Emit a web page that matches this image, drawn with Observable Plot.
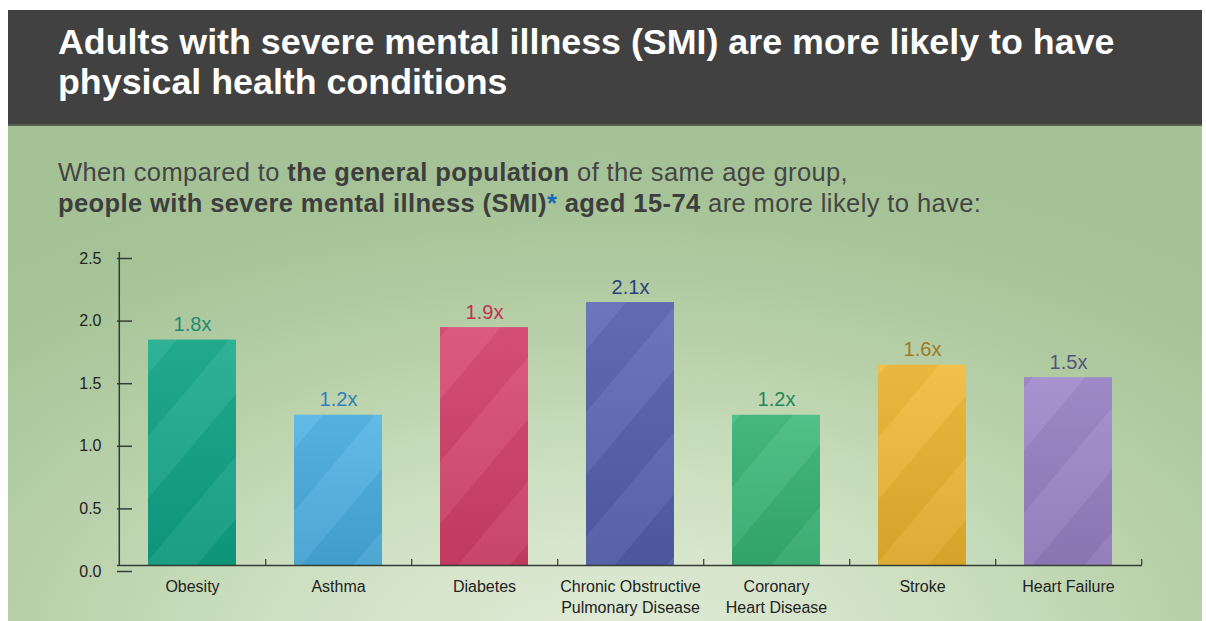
<!DOCTYPE html>
<html>
<head>
<meta charset="utf-8">
<script src="https://cdn.jsdelivr.net/npm/d3@7"></script>
<script src="https://cdn.jsdelivr.net/npm/@observablehq/plot@0.6"></script>
<style>
  body { margin: 0; background: #fff; font-family: "Liberation Sans", Arial, Helvetica, sans-serif; }
  #frame { position: absolute; left: 8px; top: 10px; width: 1194px; height: 611px; overflow: hidden; }
  #header { position: absolute; left: 0; top: 0; width: 1194px; height: 114px; background: #414141; border-bottom: 2px solid #55604f; }
  #title { position: absolute; left: 50px; top: 13px; color: #fff; font-weight: bold; font-size: 35.8px; line-height: 39.5px; white-space: nowrap; }
  #bg { position: absolute; left: 0; top: 116px; width: 1194px; height: 495px;
        background: radial-gradient(ellipse 78% 100% at 50% 106%, #e0ebd7 0%, #d6e5cc 22%, #cadebd 40%, #bcd3ae 58%, #afcaa1 76%, #a6c497 92%, #a4c295 100%); }
  #subtitle { position: absolute; left: 50px; top: 147px; color: #454545; font-size: 25.5px; line-height: 31px; letter-spacing: 0.4px; white-space: nowrap; }
  #subtitle b { color: #3e3e3e; }
  #subtitle .ast { color: #1a6bb5; font-weight: bold; }
  #chart { position: absolute; left: 0; top: 220px; }
</style>
</head>
<body>
<div id="frame">
  <div id="header"><div id="title">Adults with severe mental illness (SMI) are more likely to have<br>physical health conditions</div></div>
  <div id="bg"></div>
  <div id="subtitle">When compared to <b>the general population</b> of the same age group,<br><b>people with severe mental illness (SMI)</b><span class="ast">*</span> <b>aged 15-74</b> are more likely to have:</div>
  <div id="chart"></div>
</div>
<script>
const conditions = ["Obesity", "Asthma", "Diabetes", "Chronic Obstructive\nPulmonary Disease", "Coronary\nHeart Disease", "Stroke", "Heart Failure"];
const ratios = [1.8, 1.2, 1.9, 2.1, 1.2, 1.6, 1.5];
const barColors = ["#0fa687", "#4aafe2", "#d7416a", "#5561b0", "#38b676", "#f0b72f", "#9b82c8"];
const labelColors = ["#1f8a73", "#2f7fb8", "#c2304f", "#2d3f7c", "#22875a", "#9b7b24", "#55557a"];
const yTicks = [0, 0.5, 1.0, 1.5, 2.0, 2.5];

const data = conditions.map((c, i) => ({condition: c, ratio: ratios[i], bar: barColors[i], label: labelColors[i]}));

const W = 1194, H = 391, mL = 109, mR = 60, mT = 22, mB = 56;
const step = (W - mL - mR) / conditions.length;
const axisColor = "#353c33";

const chart = Plot.plot({
  width: W, height: H,
  marginLeft: mL, marginRight: mR, marginTop: mT, marginBottom: mB,
  style: {background: "transparent", fontFamily: "'Liberation Sans', Arial, Helvetica, sans-serif", fontSize: "16px", color: axisColor},
  x: {domain: conditions, paddingInner: 0.4, paddingOuter: 0.2, axis: null},
  y: {domain: [0, 2.5], axis: null},
  marks: [
    Plot.barY(data, {x: "condition", y: "ratio", fill: "bar"}),
    Plot.barY(data, {x: "condition", y: "ratio", fill: "url(#stripes)"}),
    Plot.barY(data, {x: "condition", y: "ratio", fill: "url(#shade)"}),
    Plot.ruleY([0], {stroke: axisColor, strokeWidth: 1.5}),
    Plot.ruleX([conditions[0]], {x: d => d, dx: -step / 2, y1: 0, y2: 2.5, stroke: axisColor, strokeWidth: 1.5}),
    Plot.axisY({ticks: yTicks, label: null, tickSize: -15, tickPadding: 31, tickFormat: d => d.toFixed(1), stroke: axisColor, strokeWidth: 1.5, dy: 6, fill: "#222", fontSize: 16}),
    Plot.axisX({ticks: conditions, label: null, tickSize: -6, tickFormat: () => "", dx: step / 2, stroke: axisColor, strokeWidth: 1.2}),
    Plot.text(data, {x: "condition", frameAnchor: "bottom", text: "condition", lineAnchor: "top", dy: 11, lineHeight: 1.35, fill: "#222", fontSize: 16}),
    Plot.text(data, {x: "condition", y: "ratio", text: d => d.ratio.toFixed(1) + "x", lineAnchor: "bottom", dy: -9, fill: "label", fontSize: 20})
  ]
});

const svg = d3.select(chart);
const defs = svg.insert("defs", ":first-child");
const pat = defs.append("pattern").attr("id", "stripes").attr("patternUnits", "userSpaceOnUse")
  .attr("width", 80).attr("height", 80).attr("patternTransform", "rotate(40)");
pat.append("rect").attr("x", 0).attr("width", 40).attr("height", 80).attr("fill", "#ffffff").attr("fill-opacity", 0.06);
pat.append("rect").attr("x", 40).attr("width", 40).attr("height", 80).attr("fill", "#000000").attr("fill-opacity", 0.03);
const grad = defs.append("linearGradient").attr("id", "shade").attr("x1", 0).attr("y1", 0).attr("x2", 0).attr("y2", 1);
grad.append("stop").attr("offset", "0%").attr("stop-color", "#ffffff").attr("stop-opacity", 0.08);
grad.append("stop").attr("offset", "100%").attr("stop-color", "#000000").attr("stop-opacity", 0.08);

document.getElementById("chart").appendChild(chart);
</script>
</body>
</html>
